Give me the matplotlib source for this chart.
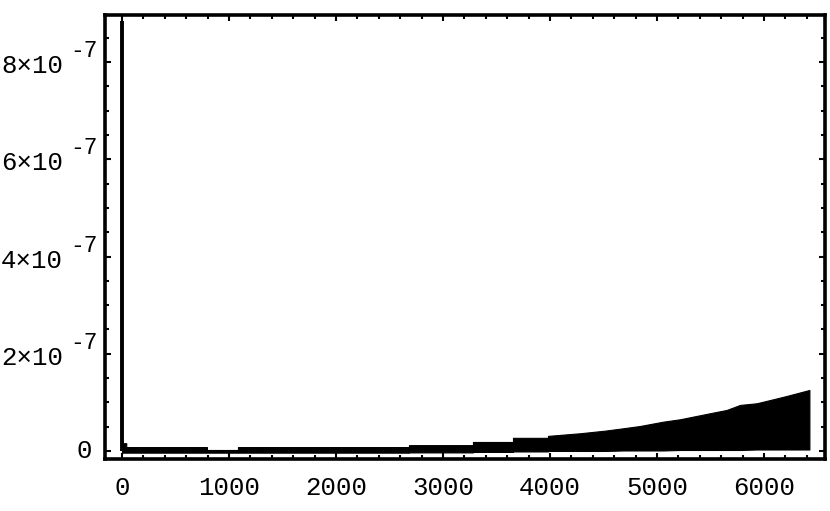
import numpy as np
import matplotlib.pyplot as plt
from matplotlib import ticker, transforms

plt.rcParams['font.family'] = ['Liberation Mono', 'DejaVu Sans Mono']

# envelope of the dense oscillating band (units of 1e-7)
band_x = [0, 40, 40, 794, 794, 1084, 1084, 2682, 2682, 3280, 3280, 3654, 3654,
          3981, 3981, 4280, 4514, 4685, 4841, 5059, 5215, 5495, 5651, 5776,
          5931, 6087, 6212, 6424]
band_top = [0.16, 0.16, 0.08, 0.08, 0.02, 0.02, 0.08, 0.08, 0.12, 0.12, 0.185,
            0.185, 0.27, 0.27, 0.31, 0.364, 0.418, 0.467, 0.514, 0.603, 0.652,
            0.776, 0.844, 0.947, 0.981, 1.064, 1.132, 1.255]
band_bot = [-0.035, -0.035, -0.035, -0.035, -0.035, -0.035, -0.035, -0.035,
            -0.03, -0.03, -0.02, -0.02, -0.01, -0.01, 0.0, 0.0, 0.0, 0.01,
            0.01, 0.01, 0.02, 0.02, 0.02, 0.02, 0.03, 0.03, 0.03, 0.03]

# initial spike at x = 0
spike_x = [0, 0]
spike_y = [0.0, 8.85]

y_ticks = [0, 2, 4, 6, 8]   # units of 1e-7

scale = 1e-7
bx = np.array(band_x)
top = np.array(band_top) * scale
bot = np.array(band_bot) * scale

fig = plt.figure(figsize=(8.3, 5.11), dpi=100)
ax = fig.add_axes([0.1271, 0.1018, 0.9940 - 0.1271, 0.9716 - 0.1018])

ax.fill_between(bx, bot, top, color='black', lw=0.8, edgecolor='black')
ax.plot(spike_x, np.array(spike_y) * scale, color='black', lw=2.8,
        solid_capstyle='butt')

ax.set_xlim(-154, 6570)
ax.set_ylim(-0.165e-7, 8.98e-7)

ax.xaxis.set_major_locator(ticker.MultipleLocator(1000))
ax.xaxis.set_minor_locator(ticker.MultipleLocator(200))
ax.yaxis.set_major_locator(ticker.FixedLocator([k * scale for k in y_ticks]))
ax.yaxis.set_minor_locator(ticker.MultipleLocator(0.5e-7))

ax.tick_params(which='both', direction='in', top=True, right=True,
               width=1.5, colors='black', labelsize=18.5)
ax.tick_params(which='major', length=4.5)
ax.tick_params(which='minor', length=3.2)
ax.tick_params(axis='x', pad=12.5)
ax.tick_params(axis='y', labelleft=False)

# y labels in the Mathematica style: "8x10" with a raised "-7"
ytr = ax.get_yaxis_transform()
px = 0.72
for k in y_ticks:
    v = k * scale
    if k == 0:
        off = transforms.ScaledTranslation(-13.5 * px / 72, -7 * px / 72,
                                           fig.dpi_scale_trans)
        ax.text(0, v, '0', transform=ytr + off, ha='right', va='baseline',
                fontsize=18.5, clip_on=False)
        continue
    off = transforms.ScaledTranslation(-42.5 * px / 72, -11 * px / 72,
                                       fig.dpi_scale_trans)
    ax.text(0, v, '%d\u00d710' % k, transform=ytr + off, ha='right',
            va='baseline', fontsize=18.5, clip_on=False)
    off2 = transforms.ScaledTranslation(-35 * px / 72, 5 * px / 72,
                                        fig.dpi_scale_trans)
    ax.text(0, v, '-7', transform=ytr + off2, ha='left', va='baseline',
            fontsize=16.5, clip_on=False)

for s in ax.spines.values():
    s.set_linewidth(2.6)
    s.set_color('black')

plt.savefig('out.png', dpi=100)
